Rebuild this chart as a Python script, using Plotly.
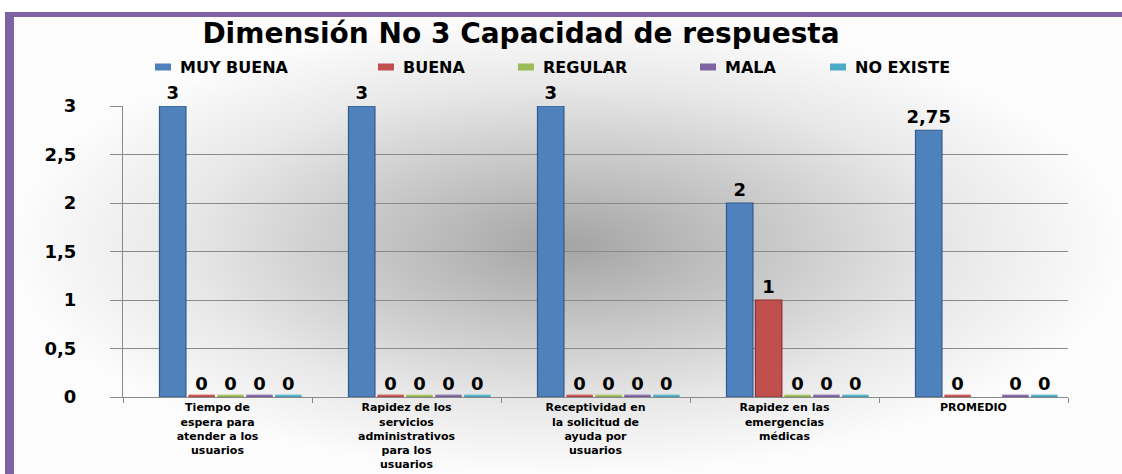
import plotly.graph_objects as go

# ---------------- data ----------------
categories = [
    "Tiempo de<br>espera para<br>atender a los<br>usuarios",
    "Rapidez de los<br>servicios<br>administrativos<br>para los<br>usuarios",
    "Receptividad en<br>la solicitud de<br>ayuda por<br>usuarios",
    "Rapidez en las<br>emergencias<br>médicas",
    "PROMEDIO",
]
series_names = ["MUY BUENA", "BUENA", "REGULAR", "MALA", "NO EXISTE"]
muy_buena = [3, 3, 3, 2, 2.75]
buena = [0, 0, 0, 1, 0]
regular = [0, 0, 0, 0, None]
mala = [0, 0, 0, 0, 0]
no_existe = [0, 0, 0, 0, 0]
title_text = "Dimensión No 3 Capacidad de respuesta"
y_ticks = [0, 0.5, 1, 1.5, 2, 2.5, 3]

# ---------------- style ----------------
W, H = 1122, 474
colors = ["#4F81BD", "#C0504D", "#9BBB59", "#8064A2", "#4BACC6"]
edge_colors = ["#2f5a8c", "#8e2f2c", "#6f8a36", "#5a437a", "#2f7f95"]
disk_colors = ["#4F81BD", "#d0605d", "#a9c768", "#8f74b2", "#5cbad3"]
purple = "#7F62A4"
label_font = dict(family="DejaVu Sans", size=18, color="black", weight="bold")
legend_marker_left = [155, 378, 518, 700, 830]   # pixel layout of legend entries
legend_y = 67


def fmt(v):
    if v is None:
        return ""
    s = ("%g" % v)
    return s.replace(".", ",")


fig = go.Figure()

# background radial gradient (pixel-mapped helper axes)
fig.add_trace(go.Scatter(
    x=[14, W, W, 14, 14], y=[17, 17, H, H, 17],
    mode="lines", line=dict(width=0), fill="toself",
    fillgradient=dict(type="radial",
                      colorscale=[[0, "#a4a4a4"], [0.35, "#c6c6c6"],
                                  [0.7, "#e8e8e8"], [1, "#fcfcfc"]]),
    hoverinfo="skip", showlegend=False, xaxis="x", yaxis="y",
))

all_series = [muy_buena, buena, regular, mala, no_existe]
bar_w = 0.14
for i, (name, vals) in enumerate(zip(series_names, all_series)):
    off = -0.307 + 0.153 * i
    # bottom disk of each cylinder
    fig.add_trace(go.Bar(
        x=categories, y=[0.045 if v is not None else None for v in vals],
        base=-0.02, offset=off, width=bar_w,
        marker=dict(color=disk_colors[i], line=dict(width=0)),
        showlegend=False, hoverinfo="skip", cliponaxis=False,
        xaxis="x2", yaxis="y2",
    ))
    fig.add_trace(go.Bar(
        x=categories, y=vals, name=name, offset=off, width=bar_w,
        marker=dict(color=colors[i], line=dict(color=edge_colors[i], width=1.2)),
        text=[fmt(v) for v in vals], textposition="outside",
        constraintext="none", textfont=label_font, cliponaxis=False,
        showlegend=False, xaxis="x2", yaxis="y2",
    ))
    # legend entry (marker + label)
    lx = legend_marker_left[i]
    fig.add_shape(type="rect", xref="x", yref="y", x0=lx, x1=lx + 16,
                  y0=legend_y - 3.5, y1=legend_y + 3.5,
                  fillcolor=colors[i], line=dict(width=0), layer="above")
    fig.add_annotation(xref="x", yref="y", x=lx + 23, y=legend_y, text=name,
                       showarrow=False, xanchor="left", yanchor="middle",
                       font=dict(family="DejaVu Sans", size=16, color="black",
                                 weight="bold"))

# purple frame
fig.add_shape(type="rect", xref="x", yref="y", x0=5, x1=14, y0=12, y1=H,
              fillcolor=purple, line=dict(width=0), layer="above")
fig.add_shape(type="rect", xref="x", yref="y", x0=5, x1=W, y0=12, y1=17,
              fillcolor=purple, line=dict(width=0), layer="above")

fig.update_layout(
    width=W, height=H, autosize=False, showlegend=False,
    margin=dict(l=0, r=0, t=0, b=0, pad=0, autoexpand=False),
    paper_bgcolor="white", plot_bgcolor="rgba(0,0,0,0)",
    barmode="overlay", separators=",.",
    title=dict(text=title_text, x=521 / W, y=1 - 33 / H,
               xanchor="center", yanchor="middle", automargin=False,
               font=dict(family="DejaVu Sans", size=28, color="black", weight="bold")),
    xaxis=dict(domain=[0, 1], range=[0, W], visible=False, fixedrange=True,
               automargin=False),
    yaxis=dict(domain=[0, 1], range=[H, 0], visible=False, fixedrange=True,
               automargin=False),
    xaxis2=dict(domain=[123 / W, 1068 / W], anchor="y2", type="category",
                range=[-0.5, 4.5], showline=True, linecolor="#8a8a8a",
                ticks="outside", tickson="boundaries", ticklen=5,
                tickcolor="#8a8a8a", showgrid=False, automargin=False,
                tickfont=dict(family="DejaVu Sans", size=11, color="black", weight="bold")),
    yaxis2=dict(domain=[77 / H, 368 / H], anchor="x2", range=[0, 3],
                tickvals=y_ticks, showgrid=True, gridcolor="#8a8a8a", gridwidth=1,
                showline=True, linecolor="#8a8a8a", ticks="outside", ticklen=12,
                tickcolor="#8a8a8a", zeroline=False, ticklabelstandoff=30,
                automargin=False,
                tickfont=dict(family="DejaVu Sans", size=18, color="black", weight="bold")),
)

fig.write_html("out.html")
